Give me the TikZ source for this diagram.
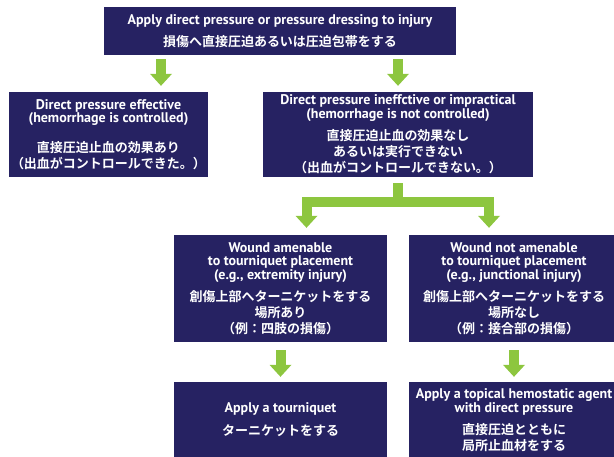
\documentclass[tikz,border=0pt]{standalone}
\usepackage{fontspec}
\setmainfont{PT Sans}
\newfontfamily\jp{Noto Sans CJK JP}[BoldFont={Noto Sans CJK JP Bold}]
\usetikzlibrary{arrows.meta}
\definecolor{navy}{RGB}{38,34,98}
\definecolor{leaf}{RGB}{141,198,63}
% Japanese line
\newcommand{\jl}[1]{{\jp\fontsize{13}{15}\selectfont #1}}
\tikzset{
	box/.style = {fill = navy, text = white, inner sep = 0pt, align = center, font = \bfseries\fontsize{14}{13.5}\selectfont},
	garrow/.style = {draw = leaf, line width = 10pt, -{Triangle[width = 22pt, length = 12pt, line width = 0pt]}},
}
\begin{document}
\begin{tikzpicture}[x = 1pt, y = -1pt]
\useasboundingbox (0,0) rectangle (614,457);
\clip (0,0) rectangle (614,457);
% Top box
\node[box, minimum width = 352pt, minimum height = 48pt] (top) at (280,31) {Apply direct pressure or pressure dressing to injury\\[7pt]\jl{損傷へ直接圧迫あるいは圧迫包帯をする}};
% Second row
\node[box, minimum width = 199pt, minimum height = 85pt] (eff) at (108.5,134.5) {Direct pressure effective\\(hemorrhage is controlled)\\[14pt]\jl{直接圧迫止血の効果あり}\\[2.5pt]\jl{（出血がコントロールできた。）}};
\node[box, minimum width = 270pt, minimum height = 85pt] (ineff) at (398,134.5) {Direct pressure ineffctive or impractical\\(hemorrhage is not controlled)\\[7pt]\jl{直接圧迫止血の効果なし}\\[2.5pt]\jl{あるいは実行できない}\\[2.5pt]\jl{（出血がコントロールできない。）}};
% Third row
\node[box, minimum width = 213pt, minimum height = 107pt] (amen) at (280.5,288.5) {Wound amenable\\to tourniquet placement\\(e.g., extremity injury)\\[7pt]\jl{創傷上部へターニケットをする}\\[2.5pt]\jl{場所あり}\\[2.5pt]\jl{（例：四肢の損傷）}};
\node[box, minimum width = 210pt, minimum height = 107pt] (notamen) at (514,288.5) {Wound not amenable\\to tourniquet placement\\(e.g., junctional injury)\\[7pt]\jl{創傷上部へターニケットをする}\\[2.5pt]\jl{場所なし}\\[2.5pt]\jl{（例：接合部の損傷）}};
% Bottom row
\node[box, minimum width = 213pt, minimum height = 76pt] (tq) at (280.5,420) {Apply a tourniquet\\[8pt]\jl{ターニケットをする}};
\node[box, minimum width = 210pt, minimum height = 76pt] (hemo) at (514,420) {Apply a topical hemostatic agent\\with direct pressure\\[7pt]\jl{直接圧迫とともに}\\[2.5pt]\jl{局所止血材をする}};
% Arrows
\coordinate (a1) at (161,0);
\draw[garrow, shorten <= 4pt, shorten >= 6pt] (top.south -| a1) -- (eff.north -| a1);
\draw[garrow, shorten <= 4pt, shorten >= 6pt] (top.south -| ineff.north) -- (ineff.north);
% Split
\coordinate (split) at (398,202.5);
\coordinate (legl) at (306.5,202.5);
\coordinate (legr) at (489,202.5);
\draw[garrow, shorten <= 6pt, shorten >= 7pt] (ineff.south) -- (split) -- (legl) -- (legl |- amen.north);
\draw[garrow, shorten <= 6pt, shorten >= 7pt] (ineff.south) -- (split) -- (legr) -- (legr |- notamen.north);
\draw[garrow, shorten <= 8pt, shorten >= 5pt] (amen.south) -- (tq.north);
\draw[garrow, shorten <= 8pt, shorten >= 5pt] (notamen.south) -- (hemo.north);
\end{tikzpicture}
\end{document}
